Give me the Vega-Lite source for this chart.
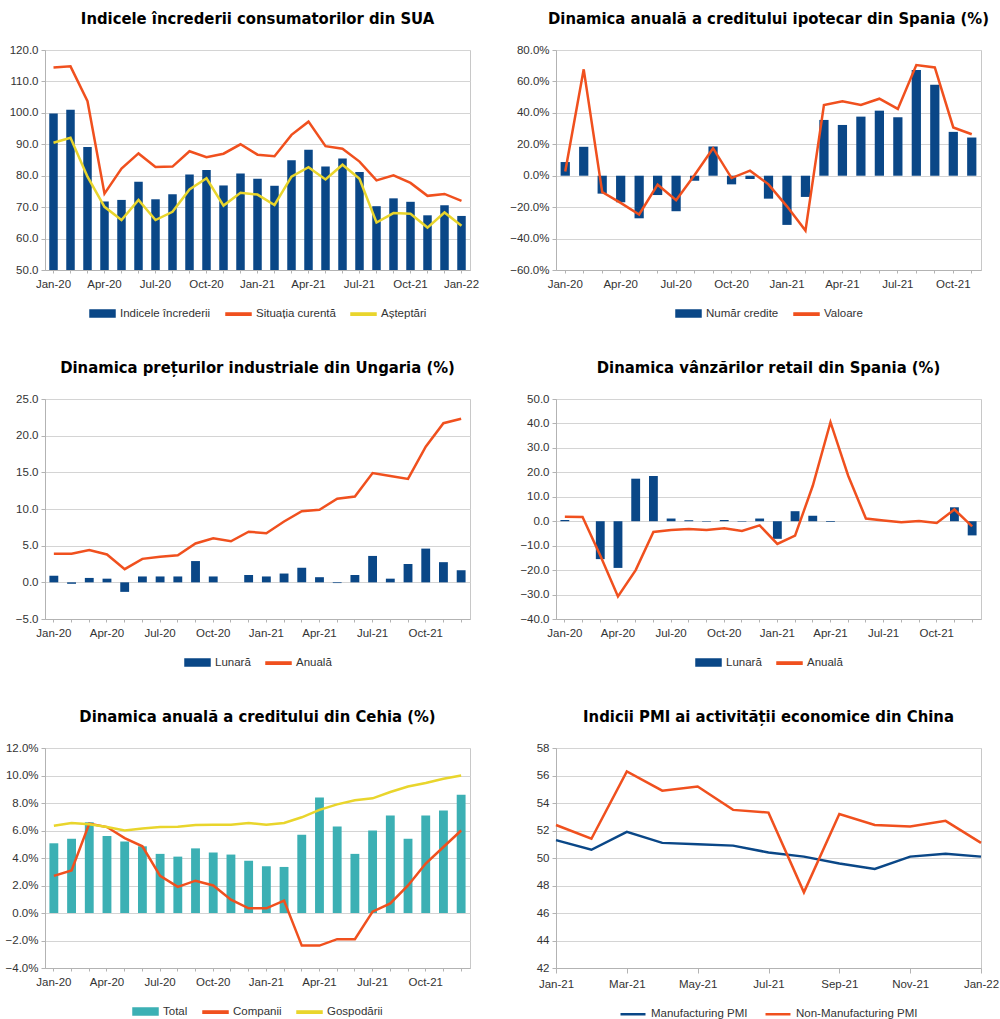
{
  "$schema": "https://vega.github.io/schema/vega-lite/v6.json",
  "background": "white",
  "padding": {"top": 10, "left": 4, "right": 0, "bottom": 0},
  "datasets": {
    "sua": [
      {"m": "Jan-20", "Indicele încrederii": 99.8, "Situația curentă": 114.4, "Așteptări": 90.5},
      {"m": "Feb-20", "Indicele încrederii": 101.0, "Situația curentă": 114.8, "Așteptări": 92.1},
      {"m": "Mar-20", "Indicele încrederii": 89.1, "Situația curentă": 103.7, "Așteptări": 79.7},
      {"m": "Apr-20", "Indicele încrederii": 71.8, "Situația curentă": 74.3, "Așteptări": 70.1},
      {"m": "May-20", "Indicele încrederii": 72.3, "Situația curentă": 82.3, "Așteptări": 65.9},
      {"m": "Jun-20", "Indicele încrederii": 78.1, "Situația curentă": 87.1, "Așteptări": 72.3},
      {"m": "Jul-20", "Indicele încrederii": 72.5, "Situația curentă": 82.8, "Așteptări": 65.9},
      {"m": "Aug-20", "Indicele încrederii": 74.1, "Situația curentă": 82.9, "Așteptări": 68.5},
      {"m": "Sep-20", "Indicele încrederii": 80.4, "Situația curentă": 87.8, "Așteptări": 75.6},
      {"m": "Oct-20", "Indicele încrederii": 81.8, "Situația curentă": 85.9, "Așteptări": 79.2},
      {"m": "Nov-20", "Indicele încrederii": 76.9, "Situația curentă": 87.0, "Așteptări": 70.5},
      {"m": "Dec-20", "Indicele încrederii": 80.7, "Situația curentă": 90.0, "Așteptări": 74.6},
      {"m": "Jan-21", "Indicele încrederii": 79.0, "Situația curentă": 86.7, "Așteptări": 74.0},
      {"m": "Feb-21", "Indicele încrederii": 76.8, "Situația curentă": 86.2, "Așteptări": 70.7},
      {"m": "Mar-21", "Indicele încrederii": 84.9, "Situația curentă": 93.0, "Așteptări": 79.7},
      {"m": "Apr-21", "Indicele încrederii": 88.3, "Situația curentă": 97.2, "Așteptări": 82.7},
      {"m": "May-21", "Indicele încrederii": 82.9, "Situația curentă": 89.4, "Așteptări": 78.8},
      {"m": "Jun-21", "Indicele încrederii": 85.5, "Situația curentă": 88.6, "Așteptări": 83.5},
      {"m": "Jul-21", "Indicele încrederii": 81.2, "Situația curentă": 84.5, "Așteptări": 79.0},
      {"m": "Aug-21", "Indicele încrederii": 70.3, "Situația curentă": 78.5, "Așteptări": 65.1},
      {"m": "Sep-21", "Indicele încrederii": 72.8, "Situația curentă": 80.1, "Așteptări": 68.1},
      {"m": "Oct-21", "Indicele încrederii": 71.7, "Situația curentă": 77.7, "Așteptări": 67.9},
      {"m": "Nov-21", "Indicele încrederii": 67.4, "Situația curentă": 73.6, "Așteptări": 63.5},
      {"m": "Dec-21", "Indicele încrederii": 70.6, "Situația curentă": 74.2, "Așteptări": 68.3},
      {"m": "Jan-22", "Indicele încrederii": 67.2, "Situația curentă": 72.0, "Așteptări": 64.1}
    ],
    "ipotecar": [
      {"m": "Jan-20", "Număr credite": 8.7, "Valoare": 2.7},
      {"m": "Feb-20", "Număr credite": 18.4, "Valoare": 67.7},
      {"m": "Mar-20", "Număr credite": -11.4, "Valoare": -10.4},
      {"m": "Apr-20", "Număr credite": -16.9, "Valoare": -17.3},
      {"m": "May-20", "Număr credite": -27.1, "Valoare": -24.7},
      {"m": "Jun-20", "Număr credite": -12.3, "Valoare": -5.7},
      {"m": "Jul-20", "Număr credite": -22.6, "Valoare": -15.6},
      {"m": "Aug-20", "Număr credite": -3.2, "Valoare": 0.5},
      {"m": "Sep-20", "Număr credite": 18.6, "Valoare": 17.5},
      {"m": "Oct-20", "Număr credite": -5.5, "Valoare": -1.5},
      {"m": "Nov-20", "Număr credite": -2.1, "Valoare": 3.2},
      {"m": "Dec-20", "Număr credite": -14.6, "Valoare": -5.5},
      {"m": "Jan-21", "Număr credite": -31.3, "Valoare": -19.5},
      {"m": "Feb-21", "Număr credite": -13.5, "Valoare": -34.9},
      {"m": "Mar-21", "Număr credite": 35.5, "Valoare": 45.0},
      {"m": "Apr-21", "Număr credite": 32.3, "Valoare": 47.3},
      {"m": "May-21", "Număr credite": 37.6, "Valoare": 45.0},
      {"m": "Jun-21", "Număr credite": 41.4, "Valoare": 49.0},
      {"m": "Jul-21", "Număr credite": 37.2, "Valoare": 42.5},
      {"m": "Aug-21", "Număr credite": 67.2, "Valoare": 70.4},
      {"m": "Sep-21", "Număr credite": 57.9, "Valoare": 68.9},
      {"m": "Oct-21", "Număr credite": 27.9, "Valoare": 30.7},
      {"m": "Nov-21", "Număr credite": 24.3, "Valoare": 26.4}
    ],
    "ungaria": [
      {"m": "Jan-20", "Lunară": 0.9, "Anuală": 3.9},
      {"m": "Feb-20", "Lunară": -0.2, "Anuală": 3.9},
      {"m": "Mar-20", "Lunară": 0.6, "Anuală": 4.4},
      {"m": "Apr-20", "Lunară": 0.5, "Anuală": 3.8},
      {"m": "May-20", "Lunară": -1.3, "Anuală": 1.8},
      {"m": "Jun-20", "Lunară": 0.8, "Anuală": 3.2},
      {"m": "Jul-20", "Lunară": 0.8, "Anuală": 3.5},
      {"m": "Aug-20", "Lunară": 0.8, "Anuală": 3.7},
      {"m": "Sep-20", "Lunară": 2.9, "Anuală": 5.3},
      {"m": "Oct-20", "Lunară": 0.8, "Anuală": 6.0},
      {"m": "Nov-20", "Lunară": 0.0, "Anuală": 5.6},
      {"m": "Dec-20", "Lunară": 1.0, "Anuală": 6.9},
      {"m": "Jan-21", "Lunară": 0.8, "Anuală": 6.7},
      {"m": "Feb-21", "Lunară": 1.2, "Anuală": 8.3},
      {"m": "Mar-21", "Lunară": 2.0, "Anuală": 9.7},
      {"m": "Apr-21", "Lunară": 0.7, "Anuală": 9.9},
      {"m": "May-21", "Lunară": -0.1, "Anuală": 11.4},
      {"m": "Jun-21", "Lunară": 1.0, "Anuală": 11.7},
      {"m": "Jul-21", "Lunară": 3.6, "Anuală": 14.9},
      {"m": "Aug-21", "Lunară": 0.5, "Anuală": 14.5},
      {"m": "Sep-21", "Lunară": 2.5, "Anuală": 14.1},
      {"m": "Oct-21", "Lunară": 4.6, "Anuală": 18.5},
      {"m": "Nov-21", "Lunară": 2.75, "Anuală": 21.7},
      {"m": "Dec-21", "Lunară": 1.65, "Anuală": 22.3}
    ],
    "retail": [
      {"m": "Jan-20", "Lunară": 0.5, "Anuală": 1.8},
      {"m": "Feb-20", "Lunară": 0.0, "Anuală": 1.7},
      {"m": "Mar-20", "Lunară": -15.5, "Anuală": -14.0},
      {"m": "Apr-20", "Lunară": -19.1, "Anuală": -30.8},
      {"m": "May-20", "Lunară": 17.4, "Anuală": -20.0},
      {"m": "Jun-20", "Lunară": 18.5, "Anuală": -4.4},
      {"m": "Jul-20", "Lunară": 1.1, "Anuală": -3.6},
      {"m": "Aug-20", "Lunară": 0.4, "Anuală": -3.2},
      {"m": "Sep-20", "Lunară": -0.2, "Anuală": -3.6},
      {"m": "Oct-20", "Lunară": 0.5, "Anuală": -2.9},
      {"m": "Nov-20", "Lunară": -0.2, "Anuală": -4.0},
      {"m": "Dec-20", "Lunară": 1.1, "Anuală": -1.7},
      {"m": "Jan-21", "Lunară": -7.2, "Anuală": -9.3},
      {"m": "Feb-21", "Lunară": 4.1, "Anuală": -5.9},
      {"m": "Mar-21", "Lunară": 2.2, "Anuală": 14.5},
      {"m": "Apr-21", "Lunară": -0.3, "Anuală": 40.5},
      {"m": "May-21", "Lunară": 0.0, "Anuală": 18.6},
      {"m": "Jun-21", "Lunară": 0.0, "Anuală": 1.1},
      {"m": "Jul-21", "Lunară": 0.0, "Anuală": 0.3},
      {"m": "Aug-21", "Lunară": 0.0, "Anuală": -0.4},
      {"m": "Sep-21", "Lunară": 0.0, "Anuală": 0.1},
      {"m": "Oct-21", "Lunară": 0.0, "Anuală": -0.7},
      {"m": "Nov-21", "Lunară": 5.7, "Anuală": 4.8},
      {"m": "Dec-21", "Lunară": -5.8, "Anuală": -2.1}
    ],
    "cehia": [
      {"m": "Jan-20", "Total": 5.07, "Companii": 2.7, "Gospodării": 6.35},
      {"m": "Feb-20", "Total": 5.4, "Companii": 3.1, "Gospodării": 6.55},
      {"m": "Mar-20", "Total": 6.6, "Companii": 6.5, "Gospodării": 6.45},
      {"m": "Apr-20", "Total": 5.6, "Companii": 6.25, "Gospodării": 6.25},
      {"m": "May-20", "Total": 5.2, "Companii": 5.45, "Gospodării": 6.0},
      {"m": "Jun-20", "Total": 4.85, "Companii": 4.85, "Gospodării": 6.15},
      {"m": "Jul-20", "Total": 4.3, "Companii": 2.7, "Gospodării": 6.25},
      {"m": "Aug-20", "Total": 4.1, "Companii": 1.9, "Gospodării": 6.28},
      {"m": "Sep-20", "Total": 4.7, "Companii": 2.35, "Gospodării": 6.4},
      {"m": "Oct-20", "Total": 4.4, "Companii": 2.0, "Gospodării": 6.42},
      {"m": "Nov-20", "Total": 4.25, "Companii": 0.97, "Gospodării": 6.42},
      {"m": "Dec-20", "Total": 3.8, "Companii": 0.34, "Gospodării": 6.55},
      {"m": "Jan-21", "Total": 3.4, "Companii": 0.34, "Gospodării": 6.42},
      {"m": "Feb-21", "Total": 3.35, "Companii": 0.9, "Gospodării": 6.55},
      {"m": "Mar-21", "Total": 5.7, "Companii": -2.37, "Gospodării": 6.96},
      {"m": "Apr-21", "Total": 8.4, "Companii": -2.37, "Gospodării": 7.5},
      {"m": "May-21", "Total": 6.3, "Companii": -1.9, "Gospodării": 7.9},
      {"m": "Jun-21", "Total": 4.3, "Companii": -1.9, "Gospodării": 8.2},
      {"m": "Jul-21", "Total": 6.0, "Companii": 0.1, "Gospodării": 8.34},
      {"m": "Aug-21", "Total": 7.1, "Companii": 0.7, "Gospodării": 8.8},
      {"m": "Sep-21", "Total": 5.4, "Companii": 2.0, "Gospodării": 9.2},
      {"m": "Oct-21", "Total": 7.1, "Companii": 3.6, "Gospodării": 9.45},
      {"m": "Nov-21", "Total": 7.45, "Companii": 4.8, "Gospodării": 9.77},
      {"m": "Dec-21", "Total": 8.6, "Companii": 6.0, "Gospodării": 10.0}
    ],
    "china": [
      {"m": "Jan-21", "Manufacturing PMI": 51.3, "Non-Manufacturing PMI": 52.4},
      {"m": "Feb-21", "Manufacturing PMI": 50.6, "Non-Manufacturing PMI": 51.4},
      {"m": "Mar-21", "Manufacturing PMI": 51.9, "Non-Manufacturing PMI": 56.3},
      {"m": "Apr-21", "Manufacturing PMI": 51.1, "Non-Manufacturing PMI": 54.9},
      {"m": "May-21", "Manufacturing PMI": 51.0, "Non-Manufacturing PMI": 55.2},
      {"m": "Jun-21", "Manufacturing PMI": 50.9, "Non-Manufacturing PMI": 53.5},
      {"m": "Jul-21", "Manufacturing PMI": 50.4, "Non-Manufacturing PMI": 53.3},
      {"m": "Aug-21", "Manufacturing PMI": 50.1, "Non-Manufacturing PMI": 47.5},
      {"m": "Sep-21", "Manufacturing PMI": 49.6, "Non-Manufacturing PMI": 53.2},
      {"m": "Oct-21", "Manufacturing PMI": 49.2, "Non-Manufacturing PMI": 52.4},
      {"m": "Nov-21", "Manufacturing PMI": 50.1, "Non-Manufacturing PMI": 52.3},
      {"m": "Dec-21", "Manufacturing PMI": 50.3, "Non-Manufacturing PMI": 52.7},
      {"m": "Jan-22", "Manufacturing PMI": 50.1, "Non-Manufacturing PMI": 51.1}
    ]
  },
  "columns": 2,
  "spacing": {"row": 129, "column": 86},
  "bounds": "flush",
  "resolve": {"scale": {"color": "independent"}, "legend": {"color": "independent"}},
  "concat": [
    {
      "title": "Indicele încrederii consumatorilor din SUA",
      "width": 425, "height": 220,
      "data": {"name": "sua"},
      "transform": [{"fold": ["Indicele încrederii", "Situația curentă", "Așteptări"], "as": ["k", "v"]}],
      "encoding": {
        "x": {"field": "m", "type": "ordinal", "sort": null, "scale": {"paddingInner": 0.5, "paddingOuter": 0.25},
              "axis": {"labelExpr": "indexof(['Jan','Apr','Jul','Oct'], slice(datum.value,0,3)) >= 0 ? datum.value : ''"}},
        "color": {"field": "k", "type": "nominal",
                  "scale": {"domain": ["Indicele încrederii", "Situația curentă", "Așteptări"], "range": ["#0a4787", "#f0501e", "#e9d52c"]},
                  "legend": {"encode": {"symbols": {"update": {"shape": {"signal": "datum.index == 0 ? 'M-1,-0.28H1V0.28H-1Z' : 'M-1,-0.09H1V0.09H-1Z'"}}}}}}
      },
      "layer": [
        {"transform": [{"filter": "datum.k == 'Indicele încrederii'"}],
         "mark": {"type": "bar"},
         "encoding": {"y": {"field": "v", "type": "quantitative", "scale": {"domain": [50, 120], "nice": false},
                            "axis": {"values": [50, 60, 70, 80, 90, 100, 110, 120], "tickCount": 20, "format": ".1f"}},
                      "y2": {"datum": 50}}},
        {"transform": [{"filter": "datum.k != 'Indicele încrederii'"}],
         "mark": {"type": "line", "strokeWidth": 2.5},
         "encoding": {"y": {"field": "v", "type": "quantitative"}}}
      ]
    },
    {
      "title": "Dinamica anuală a creditului ipotecar din Spania (%)",
      "width": 425, "height": 220,
      "data": {"name": "ipotecar"},
      "transform": [{"fold": ["Număr credite", "Valoare"], "as": ["k", "v"]}],
      "encoding": {
        "x": {"field": "m", "type": "ordinal", "sort": null, "scale": {"paddingInner": 0.5, "paddingOuter": 0.25},
              "axis": {"labelExpr": "indexof(['Jan','Apr','Jul','Oct'], slice(datum.value,0,3)) >= 0 ? datum.value : ''"}},
        "color": {"field": "k", "type": "nominal",
                  "scale": {"domain": ["Număr credite", "Valoare"], "range": ["#0a4787", "#f0501e"]},
                  "legend": {"encode": {"symbols": {"update": {"shape": {"signal": "datum.index == 0 ? 'M-1,-0.28H1V0.28H-1Z' : 'M-1,-0.09H1V0.09H-1Z'"}}}}}}
      },
      "layer": [
        {"transform": [{"filter": "datum.k == 'Număr credite'"}],
         "mark": {"type": "bar"},
         "encoding": {"y": {"field": "v", "type": "quantitative", "scale": {"domain": [-60, 80], "nice": false},
                            "axis": {"values": [-60, -40, -20, 0, 20, 40, 60, 80], "tickCount": 20, "labelExpr": "format(datum.value, '.1f') + '%'"}}}},
        {"transform": [{"filter": "datum.k == 'Valoare'"}],
         "mark": {"type": "line", "strokeWidth": 2.5},
         "encoding": {"y": {"field": "v", "type": "quantitative"}}}
      ]
    },
    {
      "title": "Dinamica prețurilor industriale din Ungaria (%)",
      "width": 425, "height": 220,
      "data": {"name": "ungaria"},
      "transform": [{"fold": ["Lunară", "Anuală"], "as": ["k", "v"]}],
      "encoding": {
        "x": {"field": "m", "type": "ordinal", "sort": null, "scale": {"paddingInner": 0.5, "paddingOuter": 0.25},
              "axis": {"labelExpr": "indexof(['Jan','Apr','Jul','Oct'], slice(datum.value,0,3)) >= 0 ? datum.value : ''"}},
        "color": {"field": "k", "type": "nominal",
                  "scale": {"domain": ["Lunară", "Anuală"], "range": ["#0a4787", "#f0501e"]},
                  "legend": {"encode": {"symbols": {"update": {"shape": {"signal": "datum.index == 0 ? 'M-1,-0.28H1V0.28H-1Z' : 'M-1,-0.09H1V0.09H-1Z'"}}}}}}
      },
      "layer": [
        {"transform": [{"filter": "datum.k == 'Lunară'"}],
         "mark": {"type": "bar"},
         "encoding": {"y": {"field": "v", "type": "quantitative", "scale": {"domain": [-5, 25], "nice": false},
                            "axis": {"values": [-5, 0, 5, 10, 15, 20, 25], "tickCount": 20, "format": ".1f"}}}},
        {"transform": [{"filter": "datum.k == 'Anuală'"}],
         "mark": {"type": "line", "strokeWidth": 2.5},
         "encoding": {"y": {"field": "v", "type": "quantitative"}}}
      ]
    },
    {
      "title": "Dinamica vânzărilor retail din Spania (%)",
      "width": 425, "height": 220,
      "data": {"name": "retail"},
      "transform": [{"fold": ["Lunară", "Anuală"], "as": ["k", "v"]}],
      "encoding": {
        "x": {"field": "m", "type": "ordinal", "sort": null, "scale": {"paddingInner": 0.5, "paddingOuter": 0.25},
              "axis": {"labelExpr": "indexof(['Jan','Apr','Jul','Oct'], slice(datum.value,0,3)) >= 0 ? datum.value : ''"}},
        "color": {"field": "k", "type": "nominal",
                  "scale": {"domain": ["Lunară", "Anuală"], "range": ["#0a4787", "#f0501e"]},
                  "legend": {"encode": {"symbols": {"update": {"shape": {"signal": "datum.index == 0 ? 'M-1,-0.28H1V0.28H-1Z' : 'M-1,-0.09H1V0.09H-1Z'"}}}}}}
      },
      "layer": [
        {"transform": [{"filter": "datum.k == 'Lunară'"}],
         "mark": {"type": "bar"},
         "encoding": {"y": {"field": "v", "type": "quantitative", "scale": {"domain": [-40, 50], "nice": false},
                            "axis": {"values": [-40, -30, -20, -10, 0, 10, 20, 30, 40, 50], "tickCount": 20, "format": ".1f"}}}},
        {"transform": [{"filter": "datum.k == 'Anuală'"}],
         "mark": {"type": "line", "strokeWidth": 2.5},
         "encoding": {"y": {"field": "v", "type": "quantitative"}}}
      ]
    },
    {
      "title": "Dinamica anuală a creditului din Cehia (%)",
      "width": 425, "height": 220,
      "data": {"name": "cehia"},
      "transform": [{"fold": ["Total", "Companii", "Gospodării"], "as": ["k", "v"]}],
      "encoding": {
        "x": {"field": "m", "type": "ordinal", "sort": null, "scale": {"paddingInner": 0.5, "paddingOuter": 0.25},
              "axis": {"labelExpr": "indexof(['Jan','Apr','Jul','Oct'], slice(datum.value,0,3)) >= 0 ? datum.value : ''"}},
        "color": {"field": "k", "type": "nominal",
                  "scale": {"domain": ["Total", "Companii", "Gospodării"], "range": ["#3cb0b4", "#f0501e", "#e9d52c"]},
                  "legend": {"encode": {"symbols": {"update": {"shape": {"signal": "datum.index == 0 ? 'M-1,-0.28H1V0.28H-1Z' : 'M-1,-0.09H1V0.09H-1Z'"}}}}}}
      },
      "layer": [
        {"transform": [{"filter": "datum.k == 'Total'"}],
         "mark": {"type": "bar"},
         "encoding": {"y": {"field": "v", "type": "quantitative", "scale": {"domain": [-4, 12], "nice": false},
                            "axis": {"values": [-4, -2, 0, 2, 4, 6, 8, 10, 12], "tickCount": 20, "labelExpr": "format(datum.value, '.1f') + '%'"}}}},
        {"transform": [{"filter": "datum.k != 'Total'"}],
         "mark": {"type": "line", "strokeWidth": 2.5},
         "encoding": {"y": {"field": "v", "type": "quantitative"}}}
      ]
    },
    {
      "title": "Indicii PMI ai activității economice din China",
      "width": 425, "height": 220,
      "data": {"name": "china"},
      "transform": [{"fold": ["Manufacturing PMI", "Non-Manufacturing PMI"], "as": ["k", "v"]}],
      "mark": {"type": "line", "strokeWidth": 2.5},
      "encoding": {
        "x": {"field": "m", "type": "ordinal", "sort": null, "scale": {"type": "point", "padding": 0},
              "axis": {"values": ["Jan-21", "Mar-21", "May-21", "Jul-21", "Sep-21", "Nov-21", "Jan-22"], "tickSize": 5}},
        "y": {"field": "v", "type": "quantitative", "scale": {"domain": [42, 58], "nice": false},
              "axis": {"values": [42, 44, 46, 48, 50, 52, 54, 56, 58], "tickCount": 20, "format": "d"}},
        "color": {"field": "k", "type": "nominal",
                  "scale": {"domain": ["Manufacturing PMI", "Non-Manufacturing PMI"], "range": ["#0a4787", "#f0501e"]},
                  "legend": {"symbolType": "stroke", "symbolStrokeWidth": 2.5}}
      }
    }
  ],
  "config": {
    "font": "Liberation Sans",
    "view": {"stroke": "#c8c8c8"},
    "axis": {
      "title": null,
      "labelFont": "Liberation Sans",
      "labelFontSize": 11.5,
      "labelColor": "#333333",
      "domainColor": "#b3b3b3",
      "tickColor": "#b3b3b3",
      "gridColor": "#d4d4d4"
    },
    "axisX": {"grid": false, "labelAngle": 0, "tickSize": 3, "labelPadding": 5},
    "axisY": {"grid": true, "tickSize": 4, "labelPadding": 3},
    "title": {
      "font": "DejaVu Sans Condensed, Liberation Sans, sans-serif",
      "fontWeight": "bold",
      "fontSize": 16.5,
      "color": "#000000",
      "anchor": "middle",
      "offset": 17
    },
    "legend": {
      "orient": "bottom",
      "direction": "horizontal",
      "title": null,
      "labelFont": "Liberation Sans",
      "labelFontSize": 11.5,
      "labelColor": "#333333",
      "symbolType": "M-1,-0.28H1V0.28H-1Z",
      "symbolSize": 625,
      "columnPadding": 12,
      "offset": 10,
      "layout": {"bottom": {"anchor": "middle"}}
    }
  }
}
